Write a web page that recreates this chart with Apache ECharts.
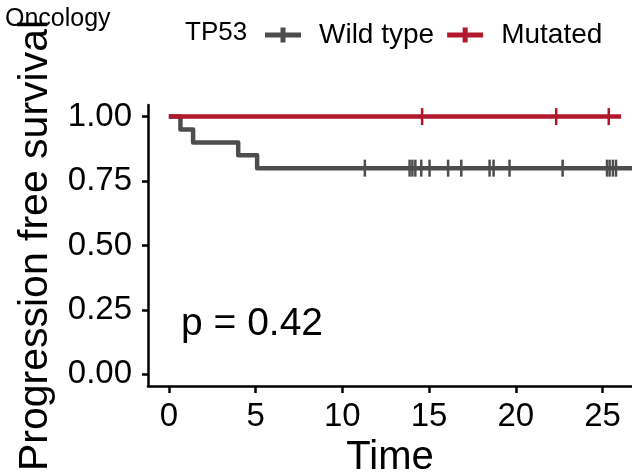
<!DOCTYPE html>
<html>
<head>
<meta charset="utf-8">
<script src="https://cdn.jsdelivr.net/npm/echarts@6/dist/echarts.min.js"></script>
<style>html,body{margin:0;padding:0;background:#fff}#c{width:632px;height:474px}</style>
</head>
<body>
<div id="c"></div>
<script>
// Kaplan-Meier step data (time, survival)
const wildTimes = [0, 0.67, 1.4, 4.0, 5.09, 27];
const wildSurv  = [1, 0.95, 0.90, 0.85, 0.80, 0.80];
const wildCensorTimes = [11.3, 13.88, 14.04, 14.21, 14.55, 15.03, 16.1, 16.86, 18.49, 18.72, 19.64, 22.7, 25.26, 25.41, 25.6, 25.78];
const wildCensorSurv = 0.80;
const mutTimes = [0, 26.07];
const mutSurv  = [1, 1];
const mutCensorTimes = [14.6, 22.33, 25.36];
const mutCensorSurv = 1.0;
const xTicks = [0, 5, 10, 15, 20, 25];
const yTicks = [0, 0.25, 0.5, 0.75, 1];
const groupNames = ['Wild type', 'Mutated'];
const pText = 'p = 0.42';

const FONT = "'Liberation Sans', Arial, sans-serif";
const GREY = '#4D4D4D', RED = '#B2182B';
const plusIcon = 'path://M0,5h36v5h-36z M15.5,0h5v15h-5z';

const chart = echarts.init(document.getElementById('c'), null, {renderer: 'canvas'});
chart.setOption({
  animation: false,
  backgroundColor: '#fff',
  textStyle: {fontFamily: FONT},
  title: [
    {text: 'Oncology', left: 5, top: 7, padding: 0, textStyle: {fontSize: 25, fontWeight: 'normal', color: '#000', fontFamily: FONT}},
    {text: 'TP53', left: 185, top: 20, padding: 0, textStyle: {fontSize: 26, fontWeight: 'normal', color: '#000', fontFamily: FONT}},
    {text: pText, left: 181, top: 305, padding: 0, textStyle: {fontSize: 39, fontWeight: 'normal', color: '#000', fontFamily: FONT}}
  ],
  legend: {
    left: 265, top: 21, padding: 0,
    itemWidth: 36, itemHeight: 15, itemGap: 13,
    textStyle: {fontSize: 28, color: '#000', fontFamily: FONT, padding: [0, 0, 0, 13]},
    data: [
      {name: groupNames[0], icon: plusIcon, itemStyle: {color: GREY}},
      {name: groupNames[1], icon: plusIcon, itemStyle: {color: RED}}
    ]
  },
  grid: {left: 148, right: 0, top: 105, bottom: 88, containLabel: false, outerBoundsMode: 'none'},
  xAxis: {
    type: 'value', min: -1.2, max: 26.7,
    name: 'Time', nameLocation: 'middle', nameGap: 52,
    nameTextStyle: {fontSize: 40, color: '#000', fontFamily: FONT},
    axisLine: {show: true, onZero: false, lineStyle: {color: '#000', width: 2.5}},
    axisTick: {show: true, length: 7, lineStyle: {color: '#000', width: 2.5}, customValues: xTicks},
    axisLabel: {fontSize: 33, color: '#000', margin: 14, fontFamily: FONT, customValues: xTicks},
    splitLine: {show: false}
  },
  yAxis: {
    type: 'value', min: -0.045, max: 1.045,
    name: 'Progression free survival', nameLocation: 'middle', nameGap: 92,
    nameTextStyle: {fontSize: 41, color: '#000', fontFamily: FONT},
    axisLine: {show: true, onZero: false, lineStyle: {color: '#000', width: 2.5}},
    axisTick: {show: true, length: 6, lineStyle: {color: '#000', width: 2.5}, customValues: yTicks},
    axisLabel: {fontSize: 33, color: '#000', margin: 16, fontFamily: FONT, customValues: yTicks,
      formatter: v => v.toFixed(2)},
    splitLine: {show: false}
  },
  series: [
    {
      name: groupNames[0], type: 'line', step: 'end', showSymbol: false, symbol: 'none',
      data: wildTimes.map((t, i) => [t, wildSurv[i]]),
      lineStyle: {color: GREY, width: 4.5, join: 'round'}, itemStyle: {color: GREY}, z: 2
    },
    {
      name: groupNames[0], type: 'scatter', symbol: 'rect', symbolSize: [2.5, 17],
      data: wildCensorTimes.map(t => [t, wildCensorSurv]),
      itemStyle: {color: GREY, opacity: 1}, z: 3
    },
    {
      name: groupNames[1], type: 'line', step: 'end', showSymbol: false, symbol: 'none',
      data: mutTimes.map((t, i) => [t, mutSurv[i]]),
      lineStyle: {color: RED, width: 4.5, join: 'round'}, itemStyle: {color: RED}, z: 4
    },
    {
      name: groupNames[1], type: 'scatter', symbol: 'rect', symbolSize: [2.5, 17],
      data: mutCensorTimes.map(t => [t, mutCensorSurv]),
      itemStyle: {color: RED, opacity: 1}, z: 5
    }
  ]
});
</script>
</body>
</html>
